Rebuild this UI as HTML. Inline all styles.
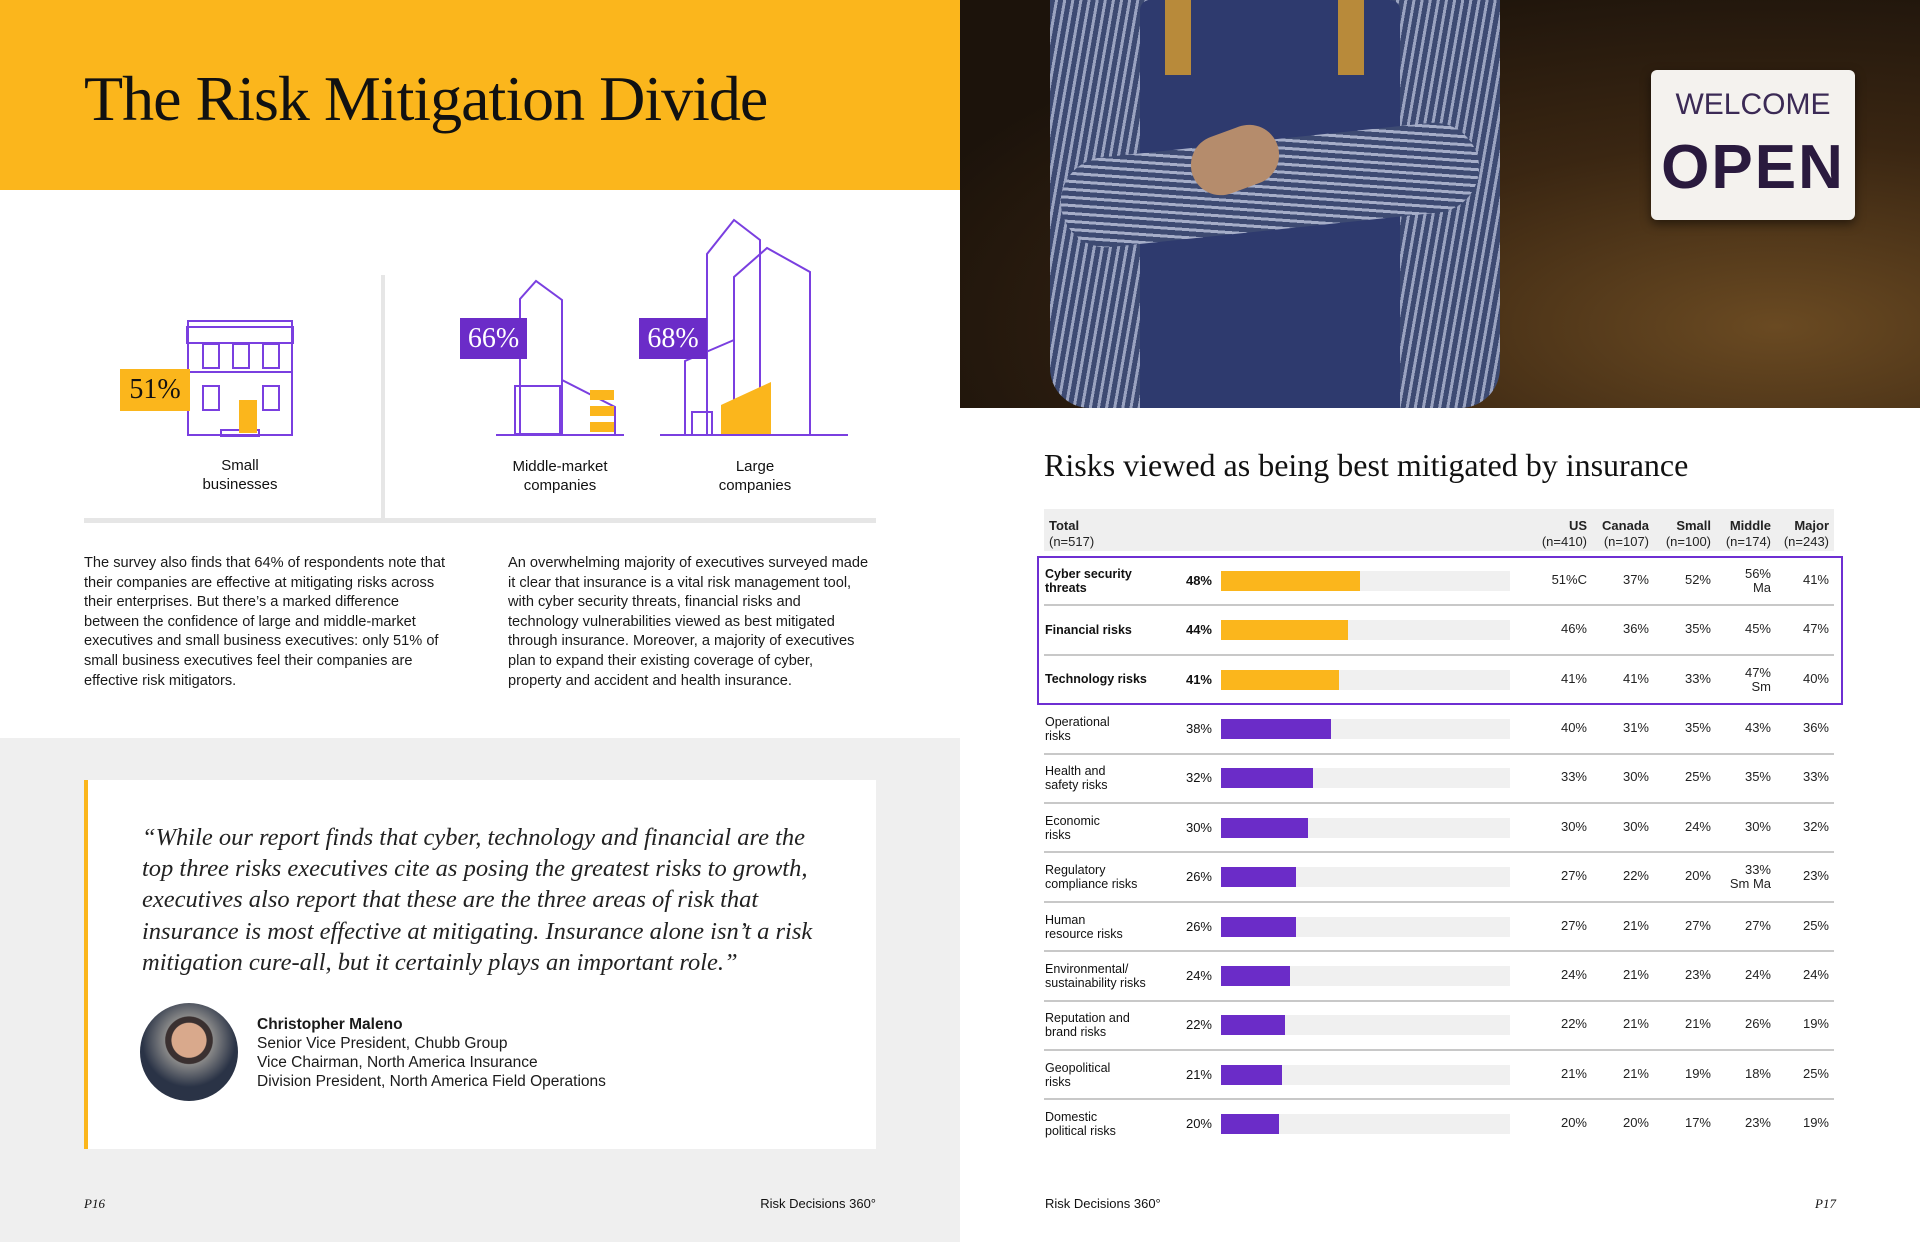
<!DOCTYPE html>
<html><head><meta charset="utf-8">
<style>
*{margin:0;padding:0;box-sizing:border-box}
body{width:1920px;height:1242px;position:relative;background:#fff;font-family:"Liberation Sans",sans-serif;color:#111;overflow:hidden}
.abs{position:absolute}
.serif{font-family:"Liberation Serif",serif}
.p{font-size:14.6px;line-height:19.6px;color:#1a1a1a}
.hdr{font-size:13px;line-height:16px;text-align:right;color:#222}
.hdr b{display:block}
</style></head><body>
<div class="abs" style="left:0;top:0;width:960px;height:190px;background:#fbb61c"></div>
<div class="abs serif" style="left:84px;top:62px;font-size:64px;letter-spacing:-1px;color:#111">The Risk Mitigation Divide</div>

<!-- photo -->
<div class="abs" style="left:960px;top:0;width:960px;height:408px;overflow:hidden;background:radial-gradient(ellipse at 85% 80%,#6a4a22 0%,#3a2612 40%,#1c130b 80%)">
 <div class="abs" style="left:90px;top:0;width:450px;height:408px;background:repeating-linear-gradient(100deg,#3d4a72 0 5px,#9aa3c0 5px 8px);border-radius:0 0 40px 40px"></div>
 <div class="abs" style="left:180px;top:0;width:260px;height:408px;background:#2e3a6e;border-radius:10px 10px 0 0"></div>
 <div class="abs" style="left:100px;top:140px;width:420px;height:90px;background:repeating-linear-gradient(10deg,#3d4a72 0 5px,#a5adc8 5px 8px);border-radius:45px;transform:rotate(-6deg)"></div>
 <div class="abs" style="left:230px;top:130px;width:90px;height:60px;background:#b58c6c;border-radius:30px;transform:rotate(-20deg)"></div>
 <div class="abs" style="left:205px;top:0;width:26px;height:75px;background:#b88a3a"></div>
 <div class="abs" style="left:378px;top:0;width:26px;height:75px;background:#b88a3a"></div>
 <div class="abs" style="left:691px;top:70px;width:204px;height:150px;background:#f4f2ee;border-radius:6px;box-shadow:0 4px 10px rgba(0,0,0,.5)">
  <div class="abs" style="left:0;width:204px;top:18px;text-align:center;font-size:30px;color:#3b2a55">WELCOME</div>
  <div class="abs" style="left:0;width:204px;top:62px;text-align:center;font-size:62px;font-weight:bold;color:#2a1a3e;letter-spacing:2px">OPEN</div>
 </div>
</div>

<!-- left infographic -->
<div class="abs" style="left:381px;top:275px;width:4px;height:244px;background:#e6e6e6"></div>
<div class="abs" style="left:84px;top:518px;width:792px;height:5px;background:#e6e6e6"></div>
<svg class="abs" style="left:0;top:200px" width="900" height="260">
 <g fill="none" stroke="#7a3fe0" stroke-width="2">
  <rect x="188" y="121" width="104" height="114"/><rect x="187" y="127" width="106" height="16"/><line x1="188" y1="172" x2="292" y2="172"/>
  <rect x="203" y="144" width="16" height="24"/><rect x="233" y="144" width="16" height="24"/><rect x="263" y="144" width="16" height="24"/>
  <rect x="203" y="186" width="16" height="24"/><rect x="263" y="186" width="16" height="24"/>
  <rect x="221" y="230" width="38" height="6"/>
  <polyline points="520,235 520,99 536,81 562,100 562,235"/><line x1="496" y1="235" x2="624" y2="235"/>
  <polyline points="562,180 615,207 615,235"/><rect x="515" y="186" width="45" height="48"/>
  <polyline points="707,235 707,54 734,20 760,40 760,235"/><polyline points="734,235 734,77 767,48 810,72 810,235"/>
  <line x1="660" y1="235" x2="848" y2="235"/><polyline points="685,235 685,161 734,140"/><rect x="692" y="212" width="20" height="23"/>
 </g>
 <rect x="239" y="200" width="18" height="33" fill="#fbb61c"/>
 <g fill="#fbb61c"><rect x="590" y="190" width="24" height="10"/><rect x="590" y="206" width="24" height="10"/><rect x="590" y="222" width="24" height="10"/>
 <polygon points="721,205 771,182 771,234 721,234"/></g>
</svg>
<div class="abs serif" style="left:120px;top:369px;width:70px;height:42px;background:#fbb61c;font-size:28px;line-height:42px;text-align:center">51%</div>
<div class="abs serif" style="left:460px;top:318px;width:67px;height:41px;background:#6b2cc8;color:#fff;font-size:28px;line-height:41px;text-align:center">66%</div>
<div class="abs serif" style="left:639px;top:318px;width:68px;height:41px;background:#6b2cc8;color:#fff;font-size:28px;line-height:41px;text-align:center">68%</div>
<div class="abs" style="left:180px;width:120px;top:456px;text-align:center;font-size:15px;line-height:19px">Small<br>businesses</div>
<div class="abs" style="left:480px;width:160px;top:457px;text-align:center;font-size:15px;line-height:19px">Middle-market<br>companies</div>
<div class="abs" style="left:680px;width:150px;top:457px;text-align:center;font-size:15px;line-height:19px">Large<br>companies</div>

<div class="abs p" style="left:84px;top:554px;width:372px">The survey also finds that 64% of respondents note that their companies are effective at mitigating risks across their enterprises. But there’s a marked difference between the confidence of large and middle-market executives and small business executives: only 51% of small business executives feel their companies are effective risk mitigators.</div>
<div class="abs p" style="left:508px;top:554px;width:362px">An overwhelming majority of executives surveyed made it clear that insurance is a vital risk management tool, with cyber security threats, financial risks and technology vulnerabilities viewed as best mitigated through insurance. Moreover, a majority of executives plan to expand their existing coverage of cyber, property and accident and health insurance.</div>

<div class="abs" style="left:0;top:738px;width:960px;height:504px;background:#efefef"></div>
<div class="abs" style="left:84px;top:780px;width:792px;height:369px;background:#fff;border-left:4px solid #fbb61c"></div>
<div class="abs serif" style="left:142px;top:822px;width:680px;font-style:italic;font-size:24.5px;line-height:31.2px;color:#222">“While our report finds that cyber, technology and financial are the top three risks executives cite as posing the greatest risks to growth, executives also report that these are the three areas of risk that insurance is most effective at mitigating. Insurance alone isn’t a risk mitigation cure-all, but it certainly plays an important role.”</div>
<div class="abs" style="left:140px;top:1003px;width:98px;height:98px;border-radius:50%;background:radial-gradient(circle at 50% 38%,#d9a98c 0 22%,#3a3030 23% 30%,#888 31%,#2a3346 60%)"></div>
<div class="abs" style="left:257px;top:1015px;font-size:15.5px;line-height:19px;color:#1a1a1a"><b>Christopher Maleno</b><br>Senior Vice President, Chubb Group<br>Vice Chairman, North America Insurance<br>Division President, North America Field Operations</div>
<div class="abs serif" style="left:84px;top:1196px;font-size:13px;font-style:italic">P16</div>
<div class="abs" style="left:676px;width:200px;top:1196px;font-size:13px;text-align:right">Risk Decisions 360°</div>
<div class="abs" style="left:1045px;top:1196px;font-size:13px">Risk Decisions 360°</div>
<div class="abs serif" style="left:1780px;width:56px;top:1196px;font-size:13px;font-style:italic;text-align:right">P17</div>

<!-- chart -->
<div class="abs serif" style="left:1044px;top:447px;font-size:32px;color:#111">Risks viewed as being best mitigated by insurance</div>
<div class="abs" style="left:1044px;top:509px;width:790px;height:42px;background:#efefef"></div>
<div class="abs" style="left:1049px;top:518px;font-size:13px;line-height:16px;color:#222"><b style="display:block">Total</b>(n=517)</div>
<div id="chart"></div>
<div class="abs" style="left:1037px;top:556px;width:806px;height:149px;border:2.5px solid #6e2fd2"></div>

<script>
const categories=["Cyber security|threats","Financial risks","Technology risks","Operational|risks","Health and|safety risks","Economic|risks","Regulatory|compliance risks","Human|resource risks","Environmental/|sustainability risks","Reputation and|brand risks","Geopolitical|risks","Domestic|political risks"];
const totals=[48,44,41,38,32,30,26,26,24,22,21,20];
const usVals=["51%C","46%","41%","40%","33%","30%","27%","27%","24%","22%","21%","20%"];
const canadaVals=["37%","36%","41%","31%","30%","30%","22%","21%","21%","21%","21%","20%"];
const smallVals=["52%","35%","33%","35%","25%","24%","20%","27%","23%","21%","19%","17%"];
const middleVals=["56%|Ma","45%","47%|Sm","43%","35%","30%","33%|Sm Ma","27%","24%","26%","18%","23%"];
const majorVals=["41%","47%","40%","36%","33%","32%","23%","25%","24%","19%","25%","19%"];
const colHeads=["US|(n=410)","Canada|(n=107)","Small|(n=100)","Middle|(n=174)","Major|(n=243)"];
const highlightCount=3;

const chart=document.getElementById('chart');
const rowTop=556, rowH=49.4, trackX=1221, trackW=289, barH=20;
const colRight=[1587,1649,1711,1771,1829];
function xScale(v){return v/100*trackW;}
function yCenter(i){return rowTop+rowH*i+rowH/2;}
function mk(style,html){const d=document.createElement('div');d.className='abs';d.style.cssText=style;d.innerHTML=html||'';chart.appendChild(d);return d;}
colHeads.forEach((h,j)=>{
  const p=h.split('|');
  const el=mk(`left:${colRight[j]-90}px;width:90px;top:518px;`,`<b>${p[0]}</b>${p[1]}`);
  el.className='abs hdr';
  
  
});
const cols=[usVals,canadaVals,smallVals,middleVals,majorVals];
categories.forEach((c,i)=>{
  const yc=yCenter(i), hi=i<highlightCount, fw=hi?'bold':'normal';
  const two=c.includes('|');
  const lab=mk(`left:1045px;top:${yc-(two?14:7.5)}px;font-size:12.5px;line-height:14px;font-weight:${fw};color:#111`,c.replace('|','<br>'));
  
  
  const pct=mk(`left:1160px;width:52px;text-align:right;top:${yc-8}px;font-size:13px;font-weight:${fw}`,totals[i]+'%');
  
  
  const track=mk(`left:${trackX}px;top:${yc-barH/2}px;width:${trackW}px;height:${barH}px;background:#f0f0f0`);
  
  
  const bar=mk(`left:${trackX}px;top:${yc-barH/2}px;width:${xScale(totals[i])}px;height:${barH}px;background:${hi?'#fbb61c':'#6b2cc8'}`);
  
  
  cols.forEach((arr,j)=>{
    const v=arr[i], m=v.includes('|');
    const cell=mk(`left:${colRight[j]-80}px;width:80px;text-align:right;top:${yc-(m?14:8)}px;font-size:13px;line-height:14px;color:#222`,v.replace('|','<br>'));
    
    
  });
  if(i<categories.length-1){
    const ln=mk(`left:1044px;top:${rowTop+rowH*(i+1)-1}px;width:790px;height:2px;background:#c8c8c8`);
    
    
  }
});
</script>
</body></html>
